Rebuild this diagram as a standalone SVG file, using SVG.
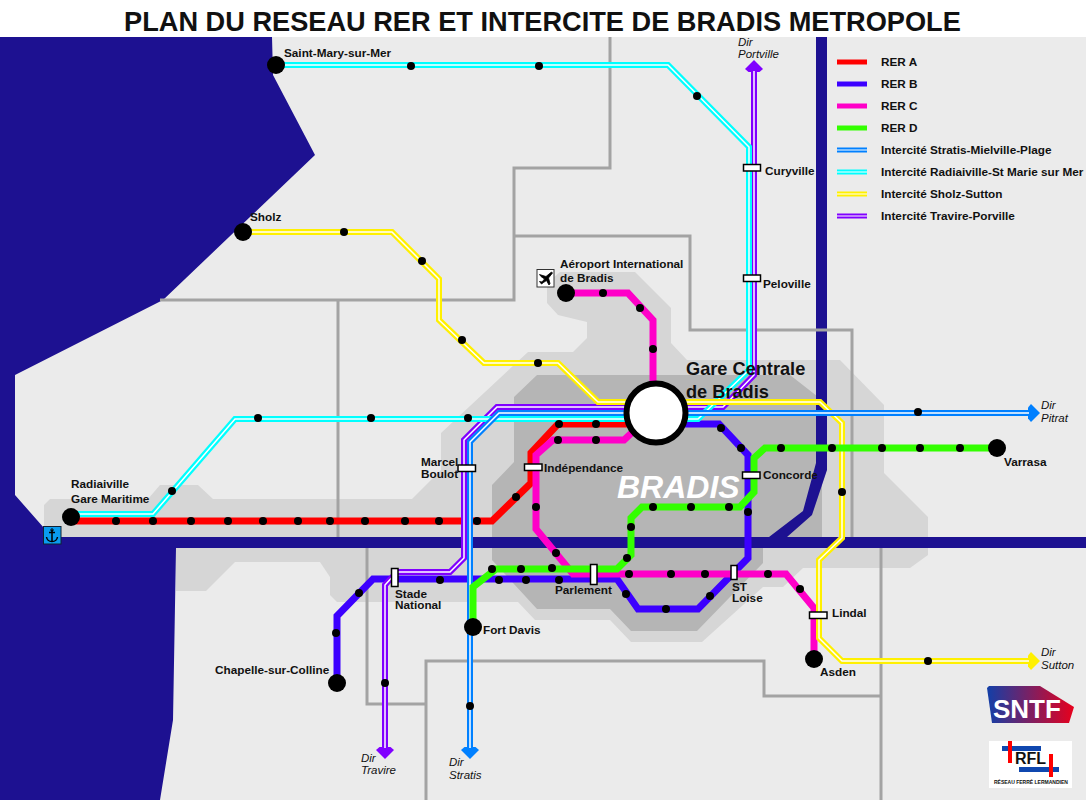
<svg xmlns="http://www.w3.org/2000/svg" width="1086" height="800" viewBox="0 0 1086 800">
<style>
text{font-family:"Liberation Sans",Arial,sans-serif;font-weight:700;font-size:11.750px;fill:#111}
.dir{font-weight:400;font-style:italic;font-size:11.500px}
.sea{fill:#1d1191}
.bound{fill:none;stroke:#a3a3a3;stroke-width:3}
.l{fill:none;stroke-linejoin:miter;stroke-width:7}
.ic{fill:none;stroke-width:6}
.w{fill:none;stroke:#fff;stroke-width:1.5}
.red{stroke:#ff0000}.rb{stroke:#3c00ff}.mag{stroke:#ff00c8}.grn{stroke:#33ff00}
.icb{stroke:#0080ff}.icc{stroke:#00ffff}.icy{stroke:#fff000}.icp{stroke:#8000ff}
.stop circle{fill:#000;r:4px}
.term{fill:#000}
.st{fill:#fff;stroke:#000;stroke-width:1.5}
</style>
<defs>
<marker id="aP" markerUnits="userSpaceOnUse" markerWidth="24" markerHeight="24" refX="16" refY="12" orient="auto-start-reverse"><path d="M20 12L11 3L8 6.500V17.500L11 21Z" fill="#8000ff"/></marker>
<marker id="aB" markerUnits="userSpaceOnUse" markerWidth="24" markerHeight="24" refX="16" refY="12" orient="auto-start-reverse"><path d="M20 12L11 3L8 6.500V17.500L11 21Z" fill="#0080ff"/></marker>
<marker id="aY" markerUnits="userSpaceOnUse" markerWidth="24" markerHeight="24" refX="16" refY="12" orient="auto-start-reverse"><path d="M20 12L11 3L8 6.500V17.500L11 21Z" fill="#fff000"/></marker>
<linearGradient id="sg"><stop offset="0" stop-color="#123fa8"/><stop offset="1" stop-color="#e8001c"/></linearGradient>
</defs>
<rect width="1086" height="800" fill="#fff"/>
<rect y="37" width="1086" height="763" fill="#ebebeb"/>
<g id="background">
<path fill="#d6d6d6" d="M44 505L50 499H148L160 485H198L213 499H412L441 470V433L528 352H573L587 338V322L558 315L547 303V283L560 272H635L671 308V343L687 360H840L884 405V473L928 517V555L910 568H803L783 587H763L702 642H631L610 620H535L518 602H337L330 595V577L320 562H235L206 591H176V548H60V527H44Z"/>
<path fill="#b5b5b5" d="M514 397L537 375H790L822 400V548H763V563L697 631H631L610 609H537L492 560V485L514 462Z"/>
<path class="sea" d="M0 37H272L273 75L315 155L163 300L15 375V495L44 528V537H1086V548H176L173 720L160 800H0Z"/>
<path class="sea" d="M816 37H827V470L812 515L787 537V548H769V537L803 511L816 463Z"/>
<path class="bound" d="M610 37V168H514V300H160M338 300V537M514 236H690V330H852V537M367 548V704H426M426 800V661H764V696H881M881 548V800"/>
</g>
<text x="124" y="31" style="font-size:27.200px" id="title">PLAN DU RESEAU RER ET INTERCITE DE BRADIS METROPOLE</text>
<text x="617" y="498" style="font-size:32px;font-style:italic;fill:#fff">BRADIS</text>
<g id="connectors">
<path class="l red" d="M71 521H492L531 483V453L558 424H630"/>
<path class="l rb" d="M337 683V616L373 579H617L638 609H698L748 558V455L719 424H685"/>
<path class="l mag" d="M566 293H628L653 320V385M640 425L624 440H553L536 455V529L573 574H786L814 608V659"/>
<path class="ic icp" d="M385 755V585L397 572H450L464 558V440L497 407H723L754 375V64" marker-start="url(#aP)" marker-end="url(#aP)"/>
<path class="w" d="M385 748V585L397 572H450L464 558V440L497 407H723L754 375V71"/>
<path class="ic icc" d="M275 65H668L749 147V370L698 419H235L153 514H71"/>
<path class="w" d="M275 65H668L749 147V370L698 419H235L153 514H71"/>
<path class="ic icy" d="M243 232H392L439 279V320L484 363H558L598 402H820L842 423V538L819 560V638L842 661H1036" marker-end="url(#aY)"/>
<path class="w" d="M243 232H392L439 279V320L484 363H558L598 402H820L842 423V538L819 560V638L842 661H1029"/>
<path class="ic icb" d="M470 755V442L499 413H1036" marker-start="url(#aB)" marker-end="url(#aB)"/>
<path class="w" d="M470 748V442L499 413H1029"/>
<path class="l grn" d="M473 627V587L496 569H617L631 555V518L642 507H740L754 492V458L765 448H997"/>
</g>
<g id="stops" class="stop">
<circle cx="411" cy="66"/><circle cx="539" cy="66"/><circle cx="697" cy="96"/><circle cx="172" cy="491"/><circle cx="258" cy="418"/><circle cx="371" cy="418"/><circle cx="468" cy="418"/>
<circle cx="344" cy="232"/><circle cx="422" cy="261"/><circle cx="462" cy="340"/><circle cx="538" cy="363"/><circle cx="842" cy="492"/><circle cx="928" cy="661"/>
<circle cx="470" cy="706"/><circle cx="918" cy="412"/><circle cx="385" cy="683"/>
<circle cx="116" cy="521"/><circle cx="153" cy="521"/><circle cx="191" cy="521"/><circle cx="228" cy="521"/><circle cx="263" cy="521"/><circle cx="298" cy="521"/><circle cx="330" cy="521"/><circle cx="365" cy="521"/><circle cx="405" cy="521"/><circle cx="439" cy="521"/><circle cx="477" cy="521"/><circle cx="516" cy="497"/><circle cx="559" cy="424"/><circle cx="596" cy="424"/>
<circle cx="558" cy="440"/><circle cx="596" cy="440"/><circle cx="536" cy="507"/><circle cx="556" cy="553"/><circle cx="629" cy="574"/><circle cx="671" cy="574"/><circle cx="705" cy="574"/><circle cx="768" cy="574"/><circle cx="800" cy="589"/><circle cx="603" cy="293"/><circle cx="640" cy="308"/><circle cx="653" cy="349"/>
<circle cx="336" cy="633"/><circle cx="359" cy="593"/><circle cx="440" cy="580"/><circle cx="499" cy="580"/><circle cx="526" cy="580"/><circle cx="559" cy="580"/><circle cx="626" cy="594"/><circle cx="666" cy="609"/><circle cx="710" cy="596"/><circle cx="748" cy="512"/><circle cx="741" cy="448"/><circle cx="721" cy="428"/>
<circle cx="492" cy="569"/><circle cx="521" cy="569"/><circle cx="552" cy="568"/><circle cx="627" cy="558"/><circle cx="631" cy="527"/><circle cx="653" cy="507"/><circle cx="691" cy="507"/><circle cx="729" cy="507"/><circle cx="781" cy="448"/><circle cx="832" cy="448"/><circle cx="882" cy="448"/><circle cx="920" cy="448"/><circle cx="960" cy="448"/>
</g>
<g id="gare-centrale"><circle cx="656" cy="413" r="29.500" fill="#fff" stroke="#000" stroke-width="6"/><text x="686" y="375" style="font-size:18.200px">Gare Centrale</text><text x="686" y="398" style="font-size:18.200px">de Bradis</text></g>
<g id="saint-mary"><circle class="term" cx="276" cy="65" r="9"/><text x="284" y="57">Saint-Mary-sur-Mer</text></g>
<g id="sholz"><circle class="term" cx="243" cy="232" r="9"/><text x="250" y="221">Sholz</text></g>
<g id="radiaiville"><circle class="term" cx="71" cy="517" r="9"/><text x="71" y="488">Radiaiville</text><text x="71" y="503">Gare Maritime</text></g>
<g id="aeroport"><circle class="term" cx="566" cy="293" r="9"/><text x="560" y="268">Aéroport International</text><text x="560" y="282">de Bradis</text></g>
<g id="varrasa"><circle class="term" cx="997" cy="448" r="9"/><text x="1004" y="466">Varrasa</text></g>
<g id="fort-davis"><circle class="term" cx="473" cy="627" r="9"/><text x="483" y="634">Fort Davis</text></g>
<g id="chapelle"><circle class="term" cx="337" cy="683" r="9"/><text x="215" y="674">Chapelle-sur-Colline</text></g>
<g id="asden"><circle class="term" cx="814" cy="659" r="9"/><text x="820" y="676">Asden</text></g>
<g id="curyville"><rect class="st" x="743.500" y="164.500" width="17" height="6.500"/><text x="765" y="175">Curyville</text></g>
<g id="peloville"><rect class="st" x="743.500" y="275" width="17" height="6.500"/><text x="763" y="288">Peloville</text></g>
<g id="marcel-boulot"><rect class="st" x="458" y="465" width="17.500" height="6.500"/><text x="421" y="466">Marcel</text><text x="421" y="478">Boulot</text></g>
<g id="independance"><rect class="st" x="524.500" y="464" width="17.500" height="6.500"/><text x="544" y="472">Indépendance</text></g>
<g id="concorde"><rect class="st" x="742.500" y="472" width="17.500" height="6.500"/><text x="763" y="479">Concorde</text></g>
<g id="lindal"><rect class="st" x="809.500" y="612" width="17.500" height="6.500"/><text x="832" y="617">Lindal</text></g>
<g id="parlement"><rect class="st" x="590.500" y="564.500" width="6.500" height="20"/><text x="555" y="594">Parlement</text></g>
<g id="st-loise"><rect class="st" x="731" y="565.500" width="6" height="14"/><text x="732" y="591">ST</text><text x="732" y="602">Loise</text></g>
<g id="stade-national"><rect class="st" x="391.500" y="568.500" width="6.500" height="18"/><text x="395" y="598">Stade</text><text x="395" y="609">National</text></g>
<g id="dir-labels">
<text class="dir" x="738" y="46">Dir</text><text class="dir" x="738" y="58">Portville</text>
<text class="dir" x="1041" y="409">Dir</text><text class="dir" x="1041" y="422">Pitrat</text>
<text class="dir" x="1041" y="656">Dir</text><text class="dir" x="1041" y="669">Sutton</text>
<text class="dir" x="361" y="762">Dir</text><text class="dir" x="361" y="774">Travire</text>
<text class="dir" x="449" y="766">Dir</text><text class="dir" x="449" y="779">Stratis</text>
</g>
<g id="legend">
<path class="red" stroke-width="5" d="M837 62H867"/><path class="rb" stroke-width="5" d="M837 84H867"/><path class="mag" stroke-width="5" d="M837 106H867"/><path class="grn" stroke-width="5" d="M837 128H867"/>
<path class="icb" stroke-width="5" d="M837 150H867"/><path class="icc" stroke-width="5" d="M837 172H867"/><path class="icy" stroke-width="5" d="M837 194H867"/><path class="icp" stroke-width="5" d="M837 216H867"/>
<path stroke="#fff" stroke-width="1.200" d="M837 150H867M837 172H867M837 194H867M837 216H867"/>
<text x="881" y="66">RER A</text><text x="881" y="88">RER B</text><text x="881" y="110">RER C</text><text x="881" y="132">RER D</text>
<text x="881" y="154">Intercité Stratis-Mielville-Plage</text><text x="881" y="176">Intercité Radiaiville-St Marie sur Mer</text><text x="881" y="198">Intercité Sholz-Sutton</text><text x="881" y="220">Intercité Travire-Porville</text>
</g>
<g id="anchor-icon"><rect x="43.500" y="526.500" width="17.500" height="17.500" fill="#0a9cf0" stroke="#123" stroke-width="1"/><path d="M52 530V541M49 532.500H55M46.500 537C47 540 49.500 541.500 52 541.500C54.500 541.500 57 540 57.500 537" fill="none" stroke="#000" stroke-width="1.500"/><circle cx="52" cy="530" r="1.200" fill="none" stroke="#000" stroke-width="1"/></g>
<g id="plane-icon"><rect x="537" y="269.500" width="17" height="17.500" fill="#fff" stroke="#333" stroke-width="1"/><path d="M551.500 272L546 276.500L539.500 274.500L541 276.500L544.500 279L542 282L539.500 281.500L541.500 284L543.500 282.500L546.500 280.500L549 285L550 283.500L548.500 278L552.500 273Z" fill="#000" stroke="#000" stroke-width=".8"/></g>
<g id="sntf-logo"><path d="M987 688L989 686H1040L1074 707L1069 723L992 723Z" fill="url(#sg)"/><text x="993" y="718" style="font-size:26px;fill:#fff">SNTF</text></g>
<g id="rfl-logo"><rect x="989" y="741" width="83" height="47" fill="#fff"/><path fill="#0f47af" d="M1002 746H1041V751H1002ZM1019 767H1059V772H1019Z"/><path fill="#f00" d="M1008 741H1012V763H1008ZM1049 754H1053V777H1049Z"/><text x="1015" y="764" style="font-size:16px">RFL</text><text x="994" y="784" style="font-size:5px">RÉSEAU FERRÉ LERMANDIEN</text></g>
</svg>
